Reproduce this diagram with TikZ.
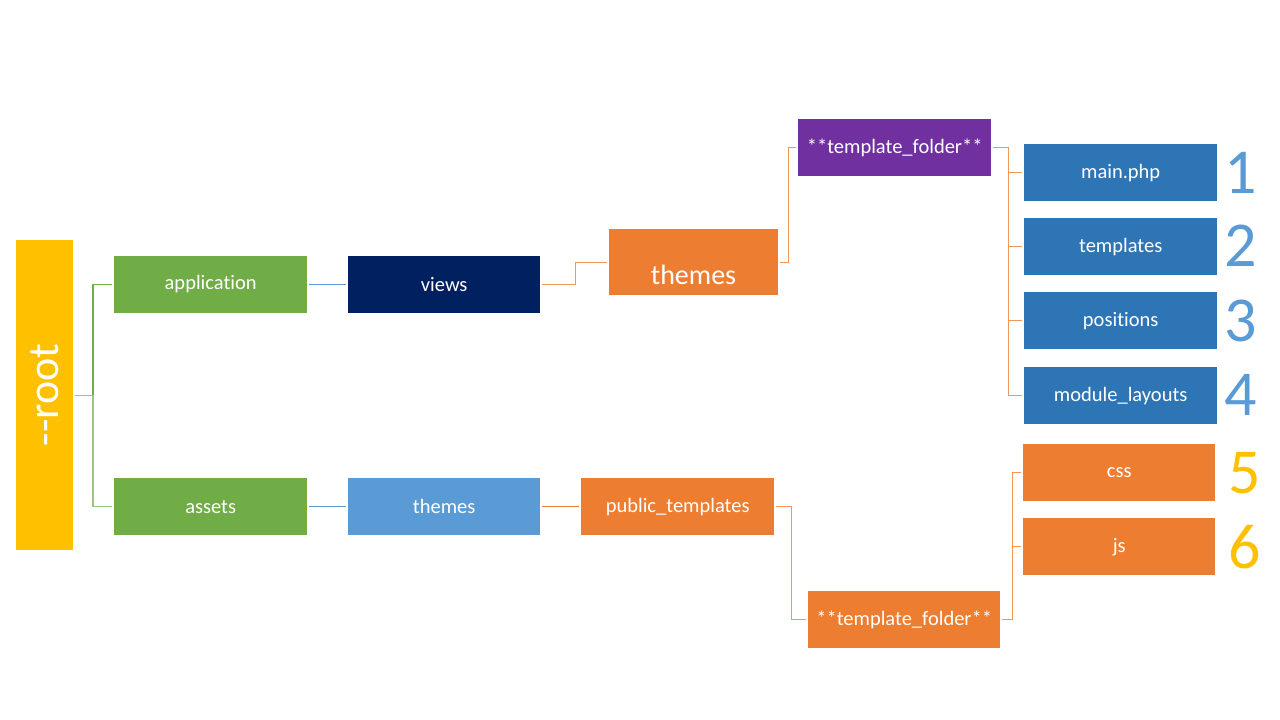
\documentclass[tikz,border=0pt]{standalone}
\usepackage{fontspec}
\setmainfont{Carlito}[RawFeature=-liga]
\definecolor{cyellow}{HTML}{FFC000}
\definecolor{cgreen}{HTML}{70AD47}
\definecolor{cnavy}{HTML}{002060}
\definecolor{corange}{HTML}{ED7D31}
\definecolor{cpurple}{HTML}{7030A0}
\definecolor{cblue}{HTML}{2E75B6}
\definecolor{clblue}{HTML}{5B9BD5}
\begin{document}
\begin{tikzpicture}[x=1pt,y=-1pt,
  box/.style={draw=none,inner sep=0pt,minimum width=193pt,minimum height=57pt,text=white,font=\fontsize{20.5}{22}\selectfont},
  link/.style={line width=1.2pt,shorten <=2pt,shorten >=2pt},
  num/.style={font=\fontsize{64}{64}\selectfont,inner sep=0pt}]
\useasboundingbox (0,0) rectangle (1280,720);
\fill[white] (0,0) rectangle (1280,720);
% nodes
\node[box,fill=cyellow,minimum width=57pt,minimum height=310pt,anchor=north west] (root) at (16,240) {};
\node[text=white,rotate=90,font=\fontsize{44}{44}\selectfont,inner sep=0pt] (roottxt) at (44.5,395) {-{}-root};
\node[box,fill=cgreen,anchor=north west] (app) at (114,255.5) {application};
\node[box,fill=cgreen,anchor=north west] (assets) at (114,478) {assets};
\node[box,fill=cnavy,anchor=north west,minimum width=192pt] (views) at (348,255.5) {views};
\node[box,fill=corange,anchor=north west,minimum width=169pt,minimum height=66pt] (themes) at (609,229) {};
\node[text=white,font=\fontsize{28}{28}\selectfont,inner sep=0pt] (themestxt) at (693.5,275) {themes};
\node[box,fill=cpurple,anchor=north west] (tf1) at (798,119) {**template\_folder**};
\node[box,fill=cblue,anchor=north west] (main) at (1024,144) {main.php};
\node[box,fill=cblue,anchor=north west] (tpl) at (1024,218) {templates};
\node[box,fill=cblue,anchor=north west] (pos) at (1024,292) {positions};
\node[box,fill=cblue,anchor=north west] (mod) at (1024,367) {module\_layouts};
\node[box,fill=clblue,anchor=north west,minimum width=192pt] (themes2) at (348,478) {themes};
\node[box,fill=corange,anchor=north west] (pub) at (581,478) {public\_templates};
\node[box,fill=corange,anchor=north west,minimum width=192pt] (tf2) at (808,591) {**template\_folder**};
\node[box,fill=corange,anchor=north west,minimum width=192pt] (css) at (1023,444) {css};
\node[box,fill=corange,anchor=north west,minimum width=192pt] (js) at (1023,518) {js};
% numbers
\node[num,text=clblue] (n1) at (1241,173) {1};
\node[num,text=clblue] (n2) at (1241,246) {2};
\node[num,text=clblue] (n3) at (1241,321) {3};
\node[num,text=clblue] (n4) at (1241,395) {4};
\node[num,text=cyellow] (n5) at (1245,473) {5};
\node[num,text=cyellow] (n6) at (1245,547) {6};
% connectors
\draw[link,cgreen] (root.east) -| ([xshift=-21pt]app.west) -- (app.west);
\draw[link,cgreen!70] (root.east) -| ([xshift=-21pt]assets.west) -- (assets.west);
\draw[link,clblue] (app.east) -- (views.west);
\draw[link,corange!80] (views.east) -- ++(35,0) |- (themes.west);
\draw[link,corange!80] (themes.east) -- ++(10,0) |- (tf1.west);
\draw[link,corange!80] (tf1.east) -- ++(17,0) |- (main.west);
\draw[link,corange!80] (tf1.east) -- ++(17,0) |- (tpl.west);
\draw[link,corange!80] (tf1.east) -- ++(17,0) |- (pos.west);
\draw[link,corange!80] (tf1.east) -- ++(17,0) |- (mod.west);
\draw[link,clblue] (assets.east) -- (themes2.west);
\draw[link,corange] (themes2.east) -- (pub.west);
\draw[link,corange!80] (pub.east) -- ++(17,0) |- (tf2.west);
\draw[link,corange!80] (tf2.east) -- ++(12,0) |- (css.west);
\draw[link,corange!80] (tf2.east) -- ++(12,0) |- (js.west);
\end{tikzpicture}
\end{document}
